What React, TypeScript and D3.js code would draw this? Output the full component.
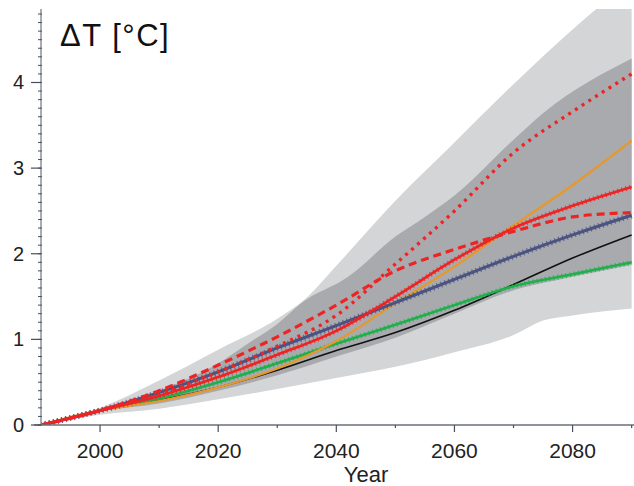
import React from "react";
import * as d3 from "d3";

const years = [1990, 2000, 2010, 2020, 2030, 2040, 2050, 2060, 2070, 2080, 2090];

const blackSeries = [0, 0.17, 0.29, 0.44, 0.64, 0.87, 1.08, 1.34, 1.64, 1.95, 2.22];
const greenSeries = [0, 0.17, 0.31, 0.5, 0.72, 0.95, 1.17, 1.4, 1.62, 1.76, 1.9];
const orangeSeries = [0, 0.17, 0.28, 0.44, 0.66, 0.98, 1.42, 1.85, 2.33, 2.8, 3.32];
const redSolidSeries = [0, 0.17, 0.34, 0.56, 0.82, 1.1, 1.5, 1.93, 2.3, 2.56, 2.78];
const navySeries = [0, 0.17, 0.38, 0.62, 0.9, 1.16, 1.43, 1.7, 1.97, 2.22, 2.45];
const redDashedSeries = [0, 0.17, 0.4, 0.7, 1.03, 1.4, 1.8, 2.05, 2.26, 2.43, 2.48];
const redDottedSeries = [0, 0.17, 0.36, 0.62, 0.92, 1.28, 1.88, 2.5, 3.18, 3.66, 4.1];

const outerUpperYears = [1990, 2000, 2010, 2020, 2030, 2035, 2040, 2050, 2060, 2070, 2080, 2090];
const outerUpper = [0, 0.2, 0.52, 0.88, 1.24, 1.49, 1.86, 2.62, 3.3, 3.98, 4.62, 5.2];
const outerLowerYears = [1990, 2000, 2010, 2020, 2030, 2040, 2050, 2060, 2070, 2075, 2080, 2090];
const outerLower = [0, 0.12, 0.19, 0.3, 0.42, 0.55, 0.68, 0.85, 1.05, 1.22, 1.28, 1.36];

const innerUpperYears = [1990, 2000, 2010, 2020, 2025, 2030, 2034, 2042, 2050, 2055, 2060, 2070, 2075, 2090];
const innerUpper = [0, 0.17, 0.4, 0.72, 0.95, 1.18, 1.42, 1.73, 2.2, 2.43, 2.68, 3.33, 3.64, 4.28];
const innerLowerYears = [1990, 2000, 2010, 2020, 2030, 2040, 2050, 2060, 2069, 2080, 2090];
const innerLower = [0, 0.16, 0.25, 0.4, 0.58, 0.8, 1.02, 1.3, 1.55, 1.73, 1.87];

const xTickMajor = [2000, 2020, 2040, 2060, 2080];
const xTickMinor = [2010, 2030, 2050, 2070, 2090];
const yTickMajor = [0, 1, 2, 3, 4];

const W = 634;
const H = 486;
const FONT = "Liberation Sans, Arial, Helvetica, sans-serif";

export default function App() {
  const x = d3.scaleLinear().domain([1990, 2090.4]).range([41, 634]);
  const y = d3.scaleLinear().domain([0, 4.87]).range([425, 8]);

  const line = d3
    .line<[number, number]>()
    .x((d) => x(d[0]))
    .y((d) => y(d[1]))
    .curve(d3.curveMonotoneX);

  const zip = (xs: number[], ys: number[]) => xs.map((v, i) => [v, ys[i]] as [number, number]);

  const bandPath = (uy: number[], u: number[], ly: number[], l: number[]) => {
    const up = line(zip(uy, u)) || "";
    const low = zip(ly, l).reverse();
    const lowPath =
      d3
        .line<[number, number]>()
        .x((d) => x(d[0]))
        .y((d) => y(d[1]))
        .curve(d3.curveMonotoneX)(low) || "";
    return up + "L" + lowPath.slice(1) + "Z";
  };

  const minorY = d3.range(0, 49).map((i) => i / 10);

  const series = [
    { data: blackSeries, color: "#111111", width: 1.6, dash: "", texture: 0 },
    { data: greenSeries, color: "#1fb04b", width: 2.6, dash: "", texture: 5 },
    { data: orangeSeries, color: "#e8982a", width: 2.2, dash: "", texture: 0 },
    { data: navySeries, color: "#4b5382", width: 3, dash: "", texture: 6 },
    { data: redSolidSeries, color: "#ee2424", width: 2.6, dash: "", texture: 5 },
    { data: redDashedSeries, color: "#ee2424", width: 3.2, dash: "8,5", texture: 0 },
    { data: redDottedSeries, color: "#ee2424", width: 3.4, dash: "3,5", texture: 0 },
  ];

  return (
    <svg width={W} height={H} style={{ position: "absolute", left: 0, top: 0, background: "#fff" }}>
      <defs>
        <clipPath id="plot">
          <rect x={41} y={9} width={593} height={416} />
        </clipPath>
      </defs>
      <g clipPath="url(#plot)">
        <path d={bandPath(outerUpperYears, outerUpper, outerLowerYears, outerLower)} fill="#d4d5d7" />
        <path d={bandPath(innerUpperYears, innerUpper, innerLowerYears, innerLower)} fill="#a8aaad" />
        {series.map((s, i) => {
          const d = line(zip(years, s.data)) || "";
          return (
            <g key={i}>
              <path
                d={d}
                fill="none"
                stroke={s.color}
                strokeWidth={s.width}
                strokeDasharray={s.dash || undefined}
              />
              {s.texture > 0 && (
                <path d={d} fill="none" stroke={s.color} strokeWidth={s.texture} strokeDasharray="1.2,3" opacity={0.75} />
              )}
            </g>
          );
        })}
      </g>
      <line x1={34} x2={634} y1={425} y2={425} stroke="#6b6f78" strokeWidth={1.5} />
      <line x1={41} x2={41} y1={9} y2={425} stroke="#8a8f99" strokeWidth={1.5} />
      {minorY.map((v, i) => (
        <line key={"my" + i} x1={38} x2={42} y1={y(v)} y2={y(v)} stroke="#4a4f5e" strokeWidth={1} />
      ))}
      {yTickMajor.map((v) => (
        <g key={"y" + v}>
          <line x1={31} x2={41} y1={y(v)} y2={y(v)} stroke="#4a4f5e" strokeWidth={1.2} />
          <text x={24} y={y(v) + 7} textAnchor="end" fontFamily={FONT} fontSize={20} fill="#222">
            {v}
          </text>
        </g>
      ))}
      {xTickMajor.map((v) => (
        <g key={"x" + v}>
          <line x1={x(v)} x2={x(v)} y1={425} y2={432} stroke="#4a4f5e" strokeWidth={1.2} />
          <text x={x(v)} y={458} textAnchor="middle" fontFamily={FONT} fontSize={21} fill="#222">
            {v}
          </text>
        </g>
      ))}
      {xTickMinor.map((v) => (
        <line key={"xm" + v} x1={x(v)} x2={x(v)} y1={425} y2={428} stroke="#4a4f5e" strokeWidth={1.2} />
      ))}
      <text x={366} y={482} textAnchor="middle" fontFamily={FONT} fontSize={22} fill="#222">
        Year
      </text>
      <text x={60} y={46} fontFamily={FONT} fontSize={31} letterSpacing={1.5} fill="#111">
        ΔT [°C]
      </text>
    </svg>
  );
}
